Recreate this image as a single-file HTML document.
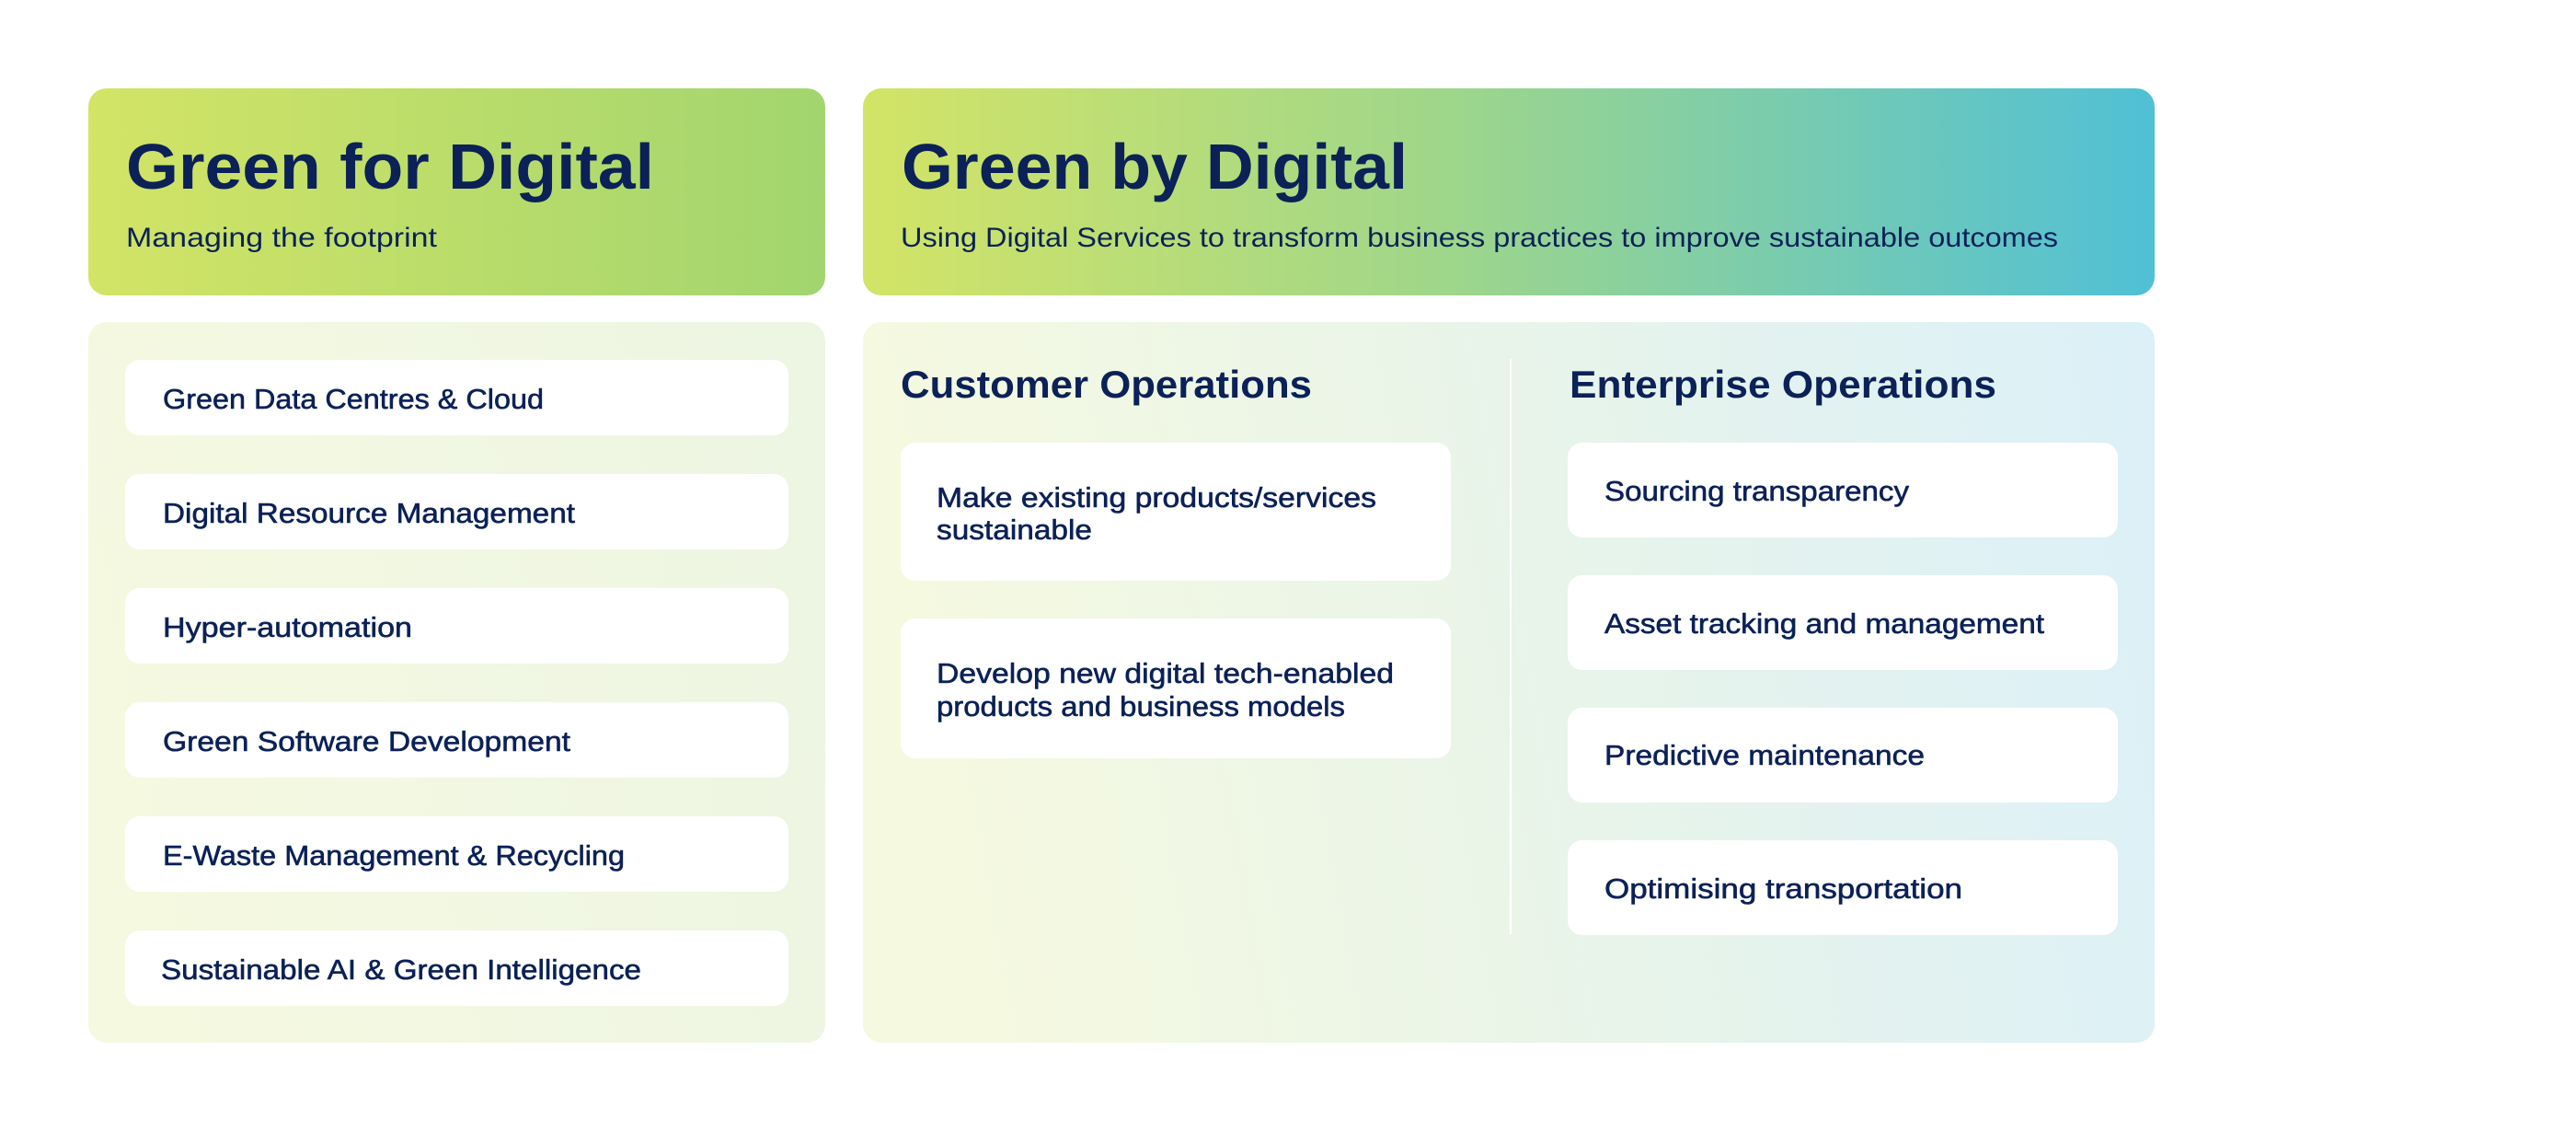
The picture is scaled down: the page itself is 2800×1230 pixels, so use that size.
<!DOCTYPE html>
<html><head><meta charset="utf-8"><style>html,body{margin:0;padding:0;background:#fff}svg{display:block}</style></head><body>
<svg width="2800" height="1230" viewBox="0 0 2800 1230" xmlns="http://www.w3.org/2000/svg" font-family="'Liberation Sans', sans-serif" fill="#0b2157">
<defs>
<linearGradient id="h1" x1="0" x2="1" y1="0" y2="0"><stop offset="0" stop-color="#d3e466"/><stop offset="1" stop-color="#a2d56f"/></linearGradient>
<linearGradient id="h2" x1="0" x2="1" y1="0" y2="0"><stop offset="0" stop-color="#d3e466"/><stop offset="0.45" stop-color="#9fd68a"/><stop offset="1" stop-color="#50c0d6"/></linearGradient>
<linearGradient id="p1" x1="0" x2="1" y1="0.6" y2="0.4"><stop offset="0" stop-color="#f5f9e0"/><stop offset="1" stop-color="#edf5e3"/></linearGradient>
<linearGradient id="p2" x1="0" x2="1" y1="0.1" y2="0"><stop offset="0" stop-color="#f5f9e0"/><stop offset="0.5" stop-color="#e8f4ea"/><stop offset="1" stop-color="#dbf0f8"/></linearGradient>
</defs>
<rect x="96" y="96" width="801" height="225" rx="20" fill="url(#h1)"/>
<rect x="938" y="96" width="1404" height="225" rx="20" fill="url(#h2)"/>
<rect x="96" y="350" width="801" height="783" rx="20" fill="url(#p1)"/>
<rect x="938" y="350" width="1404" height="783" rx="20" fill="url(#p2)"/>

<text x="137" y="205" font-size="70" font-weight="bold" textLength="574" lengthAdjust="spacingAndGlyphs">Green for Digital</text>
<text x="137" y="268" font-size="30" textLength="338" lengthAdjust="spacingAndGlyphs">Managing the footprint</text>
<text x="980" y="205" font-size="70" font-weight="bold" textLength="550" lengthAdjust="spacingAndGlyphs">Green by Digital</text>
<text x="979" y="268" font-size="30" textLength="1258" lengthAdjust="spacingAndGlyphs">Using Digital Services to transform business practices to improve sustainable outcomes</text>

<g fill="#fff">
<rect x="136" y="391" width="721" height="82" rx="16"/>
<rect x="136" y="515" width="721" height="82" rx="16"/>
<rect x="136" y="639" width="721" height="82" rx="16"/>
<rect x="136" y="763" width="721" height="82" rx="16"/>
<rect x="136" y="887" width="721" height="82" rx="16"/>
<rect x="136" y="1011" width="721" height="82" rx="16"/>
<rect x="979" y="481" width="598" height="150" rx="16"/>
<rect x="979" y="672" width="598" height="152" rx="16"/>
<rect x="1704" y="481" width="598" height="103" rx="16"/>
<rect x="1704" y="625" width="598" height="103" rx="16"/>
<rect x="1704" y="769" width="598" height="103" rx="16"/>
<rect x="1704" y="913" width="598" height="103" rx="16"/>
</g>
<line x1="1642" y1="390" x2="1642" y2="1015" stroke="#ffffff" stroke-width="2"/>

<g font-size="31" stroke="#0b2157" stroke-width="0.6">
<text x="177" y="444" textLength="414" lengthAdjust="spacingAndGlyphs">Green Data Centres &amp; Cloud</text>
<text x="177" y="568" textLength="448" lengthAdjust="spacingAndGlyphs">Digital Resource Management</text>
<text x="177" y="692" textLength="271" lengthAdjust="spacingAndGlyphs">Hyper-automation</text>
<text x="177" y="816" textLength="443" lengthAdjust="spacingAndGlyphs">Green Software Development</text>
<text x="177" y="940" textLength="502" lengthAdjust="spacingAndGlyphs">E-Waste Management &amp; Recycling</text>
<text x="175" y="1064" textLength="522" lengthAdjust="spacingAndGlyphs">Sustainable AI &amp; Green Intelligence</text>

<text x="1018" y="551" textLength="478" lengthAdjust="spacingAndGlyphs">Make existing products/services</text>
<text x="1018" y="586" textLength="169" lengthAdjust="spacingAndGlyphs">sustainable</text>
<text x="1018" y="742" textLength="497" lengthAdjust="spacingAndGlyphs">Develop new digital tech-enabled</text>
<text x="1018" y="778" textLength="444" lengthAdjust="spacingAndGlyphs">products and business models</text>

<text x="1744" y="544" textLength="331" lengthAdjust="spacingAndGlyphs">Sourcing transparency</text>
<text x="1744" y="688" textLength="478" lengthAdjust="spacingAndGlyphs">Asset tracking and management</text>
<text x="1744" y="831" textLength="348" lengthAdjust="spacingAndGlyphs">Predictive maintenance</text>
<text x="1744" y="976" textLength="389" lengthAdjust="spacingAndGlyphs">Optimising transportation</text>
</g>

<text x="979" y="432" font-size="42" font-weight="bold" textLength="447" lengthAdjust="spacingAndGlyphs">Customer Operations</text>
<text x="1706" y="432" font-size="42" font-weight="bold" textLength="464" lengthAdjust="spacingAndGlyphs">Enterprise Operations</text>
</svg>
</body></html>
